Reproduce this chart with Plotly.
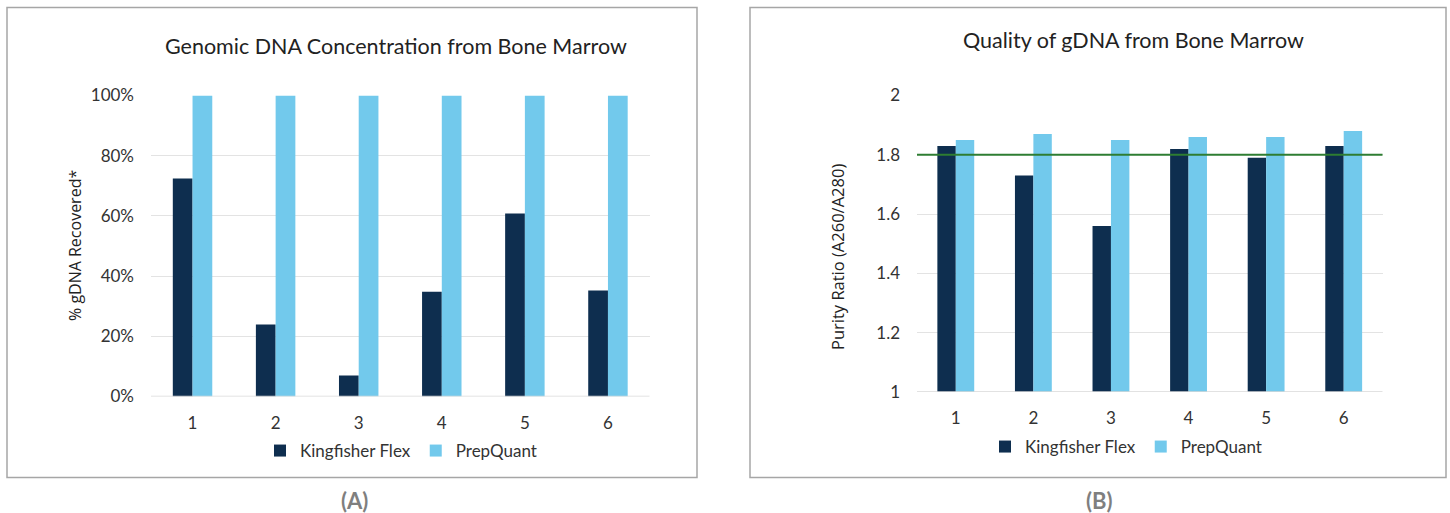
import plotly.graph_objects as go

samples = ["1", "2", "3", "4", "5", "6"]
conc_kingfisher = [0.724, 0.239, 0.07, 0.348, 0.608, 0.352]
conc_prepquant = [1.0, 1.0, 1.0, 1.0, 1.0, 1.0]
purity_kingfisher = [1.83, 1.73, 1.56, 1.82, 1.79, 1.83]
purity_prepquant = [1.85, 1.87, 1.85, 1.86, 1.86, 1.88]
purity_threshold = 1.8

W, H = 1450, 513
DARK = "#0e2e4f"
LIGHT = "#72c9ec"
FONT = "Lato"
AXFONT = "Open Sans"
TXT = "#333333"

def px(x):
    return x / W

def py(y):
    return 1 - y / H

fig = go.Figure()

fig.add_trace(go.Bar(x=samples, y=conc_kingfisher, name="Kingfisher Flex",
                     marker=dict(color=DARK, line_width=0), xaxis="x", yaxis="y", legend="legend"))
fig.add_trace(go.Bar(x=samples, y=conc_prepquant, name="PrepQuant",
                     marker=dict(color=LIGHT, line_width=0), xaxis="x", yaxis="y", legend="legend"))
fig.add_trace(go.Bar(x=samples, y=purity_kingfisher, name="Kingfisher Flex",
                     marker=dict(color=DARK, line_width=0), xaxis="x2", yaxis="y2", legend="legend2"))
fig.add_trace(go.Bar(x=samples, y=purity_prepquant, name="PrepQuant",
                     marker=dict(color=LIGHT, line_width=0), xaxis="x2", yaxis="y2", legend="legend2"))

xaxis_common = dict(type="category", showgrid=False, showline=False, zeroline=False, ticks="",
                    automargin=False, ticklabelstandoff=14,
                    tickfont=dict(family=FONT, size=17, color=TXT))
yaxis_common = dict(showgrid=True, gridcolor="#e3e3e3", gridwidth=1.2, zeroline=False, showline=False, ticks="",
                    automargin=False, ticklabelstandoff=16,
                    tickfont=dict(family=FONT, size=17, color=TXT))

legend_common = dict(orientation="h", xanchor="center", yanchor="middle",
                     font=dict(family=FONT, size=17, color=TXT), itemwidth=30, traceorder="normal",
                     bgcolor="rgba(0,0,0,0)")

fig.update_layout(
    width=W, height=H,
    margin=dict(l=0, r=0, t=0, b=0, autoexpand=False),
    paper_bgcolor="white", plot_bgcolor="white",
    barmode="group", bargap=0.525, bargroupgap=0,
    xaxis=dict(domain=[px(151), px(649.5)], anchor="y", **xaxis_common),
    yaxis=dict(domain=[py(396.5), py(95.5)], anchor="x", range=[0, 1.0001], dtick=0.2, tickformat=".0%",
               **yaxis_common),
    xaxis2=dict(domain=[px(917), px(1382.5)], anchor="y2", **xaxis_common),
    yaxis2=dict(domain=[py(392), py(95.5)], anchor="x2", range=[1, 2.0001], dtick=0.2, tickformat="",
                **yaxis_common),
    legend=dict(x=px(401), y=py(451), **legend_common),
    legend2=dict(x=px(1126), y=py(447), **legend_common),
    showlegend=True,
)

# baseline lines
fig.add_shape(type="line", xref="x domain", yref="y", x0=0, x1=1, y0=0, y1=0,
              line=dict(color="#d9d9d9", width=1.5))
fig.add_shape(type="line", xref="x2 domain", yref="y2", x0=0, x1=1, y0=1, y1=1,
              line=dict(color="#d9d9d9", width=1.5))
# threshold line
fig.add_shape(type="line", xref="x2 domain", yref="y2", x0=0, x1=1, y0=purity_threshold, y1=purity_threshold,
              line=dict(color="#2e7d32", width=2), layer="above")

# panel borders
fig.add_shape(type="rect", xref="paper", yref="paper", x0=px(7), x1=px(697), y0=py(477.5), y1=py(7.5),
              line=dict(color="#a6a6a6", width=1.5))
fig.add_shape(type="rect", xref="paper", yref="paper", x0=px(750), x1=px(1446), y0=py(477.5), y1=py(7.5),
              line=dict(color="#a6a6a6", width=1.5))

ann = [
    dict(text="Genomic DNA Concentration from Bone Marrow", x=px(396), y=py(46)),
    dict(text="Quality of gDNA from Bone Marrow", x=px(1133), y=py(40)),
]
ann = [dict(a, xref="paper", yref="paper", showarrow=False, xanchor="center", yanchor="middle",
            font=dict(family=FONT, size=21.5, color="#222222")) for a in ann]
ann.append(dict(text="% gDNA Recovered*", x=px(75), y=py(246), xref="paper", yref="paper", textangle=-90,
                showarrow=False, font=dict(family=AXFONT, size=16, color="#222222"),
                xanchor="center", yanchor="middle"))
ann.append(dict(text="Purity Ratio (A260/A280)", x=px(837), y=py(257), xref="paper", yref="paper", textangle=-90,
                showarrow=False, font=dict(family=AXFONT, size=16.5, color="#222222"),
                xanchor="center", yanchor="middle"))
ann.append(dict(text="<b>(A)</b>", x=px(354.5), y=py(500), xref="paper", yref="paper",
                showarrow=False, font=dict(family=FONT, size=22, color="#7f7f7f"),
                xanchor="center", yanchor="middle"))
ann.append(dict(text="<b>(B)</b>", x=px(1099), y=py(500), xref="paper", yref="paper",
                showarrow=False, font=dict(family=FONT, size=22, color="#7f7f7f"),
                xanchor="center", yanchor="middle"))
fig.update_layout(annotations=ann)

fig.write_html("out.html", config={"displayModeBar": False},
               post_script="document.body.style.margin='0';document.body.style.padding='0';")
